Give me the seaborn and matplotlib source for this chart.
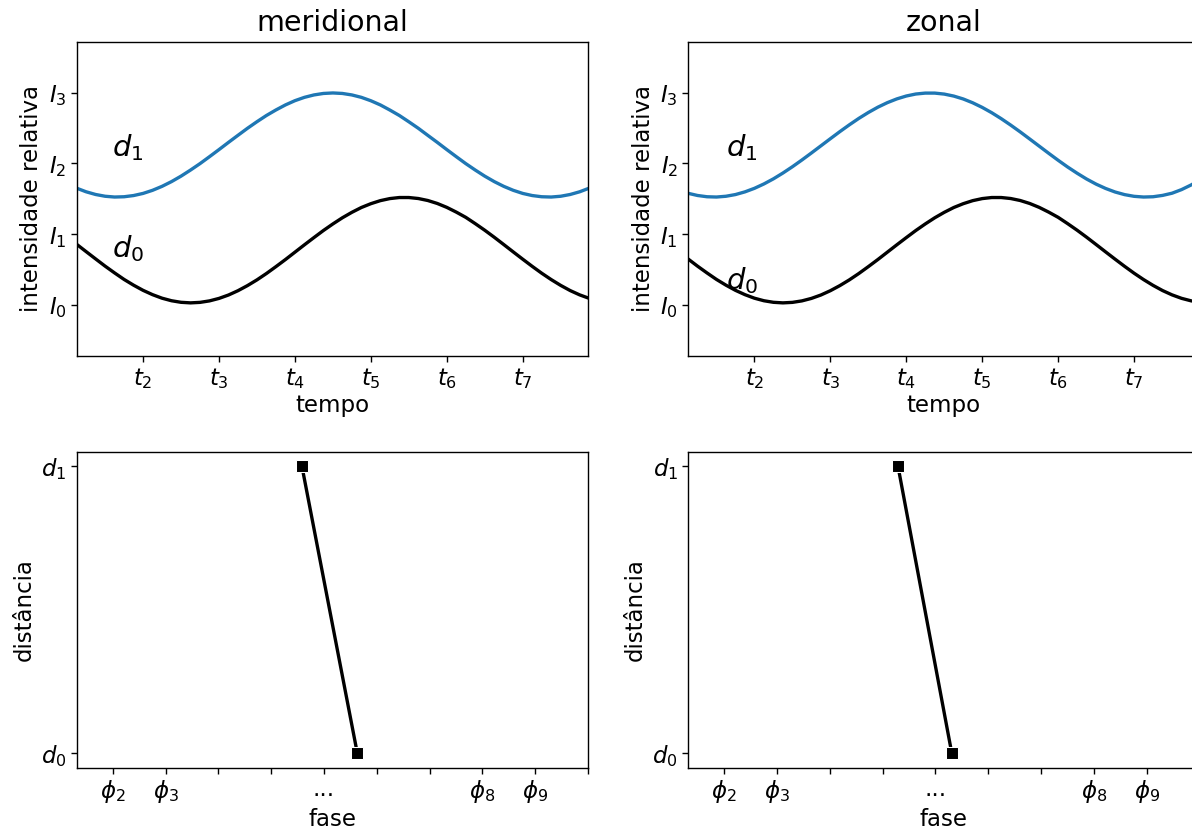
import numpy as np
import pandas as pd
import matplotlib
matplotlib.use("Agg")
import matplotlib.pyplot as plt
import seaborn as sns

# -----------------------------------------------------
# Values
# -----------------------------------------------------
tempo = [1.000, 1.125, 1.250, 1.375, 1.500, 1.625, 1.750, 1.875, 2.000, 2.125,
         2.250, 2.375, 2.500, 2.625, 2.750, 2.875, 3.000, 3.125, 3.250, 3.375,
         3.500, 3.625, 3.750, 3.875, 4.000, 4.125, 4.250, 4.375, 4.500, 4.625,
         4.750, 4.875, 5.000, 5.125, 5.250, 5.375, 5.500, 5.625, 5.750, 5.875,
         6.000, 6.125, 6.250, 6.375, 6.500, 6.625, 6.750, 6.875, 7.000, 7.125,
         7.250, 7.375, 7.500, 7.625, 7.750, 7.875, 8.000]

# meridional
mer_d1 = [1.712, 1.650, 1.599, 1.561, 1.536, 1.525, 1.529, 1.546, 1.576, 1.620,
          1.676, 1.743, 1.820, 1.906, 1.997, 2.095, 2.195, 2.297, 2.397, 2.496,
          2.589, 2.677, 2.755, 2.826, 2.886, 2.933, 2.967, 2.988, 2.995, 2.988,
          2.967, 2.933, 2.885, 2.826, 2.754, 2.677, 2.588, 2.496, 2.396, 2.297,
          2.195, 2.095, 1.997, 1.906, 1.820, 1.743, 1.676, 1.620, 1.576, 1.546,
          1.529, 1.525, 1.536, 1.561, 1.599, 1.650, 1.712]
mer_d0 = [0.961, 0.858, 0.754, 0.651, 0.549, 0.453, 0.361, 0.280, 0.207, 0.146,
          0.096, 0.060, 0.038, 0.030, 0.037, 0.058, 0.093, 0.141, 0.202, 0.274,
          0.355, 0.445, 0.542, 0.642, 0.746, 0.850, 0.952, 1.052, 1.145, 1.232,
          1.309, 1.377, 1.431, 1.474, 1.503, 1.518, 1.518, 1.504, 1.476, 1.434,
          1.379, 1.312, 1.238, 1.149, 1.056, 0.957, 0.854, 0.750, 0.647, 0.546,
          0.449, 0.359, 0.277, 0.204, 0.143, 0.094, 0.059]

# zonal
zon_d1 = [1.622, 1.578, 1.547, 1.529, 1.525, 1.536, 1.560, 1.598, 1.648, 1.710,
          1.782, 1.864, 1.953, 2.048, 2.147, 2.248, 2.349, 2.449, 2.545, 2.636,
          2.719, 2.794, 2.858, 2.911, 2.952, 2.980, 2.993, 2.993, 2.979, 2.951,
          2.910, 2.856, 2.791, 2.716, 2.632, 2.541, 2.445, 2.345, 2.244, 2.143,
          2.044, 1.949, 1.861, 1.779, 1.707, 1.646, 1.596, 1.559, 1.535, 1.525,
          1.529, 1.548, 1.579, 1.630, 1.695, 1.770, 1.850]
zon_d0 = [0.754, 0.651, 0.549, 0.453, 0.361, 0.280, 0.207, 0.146, 0.096, 0.060,
          0.038, 0.030, 0.037, 0.058, 0.093, 0.141, 0.202, 0.274, 0.355, 0.445,
          0.542, 0.642, 0.746, 0.850, 0.952, 1.052, 1.145, 1.232, 1.309, 1.377,
          1.431, 1.474, 1.503, 1.518, 1.518, 1.504, 1.476, 1.434, 1.379, 1.312,
          1.238, 1.149, 1.056, 0.957, 0.854, 0.750, 0.647, 0.546, 0.449, 0.359,
          0.277, 0.204, 0.143, 0.094, 0.059, 0.037, 0.030]

t_ticks = [2, 3, 4, 5, 6, 7]
t_labels = ['$t_2$', '$t_3$', '$t_4$', '$t_5$', '$t_6$', '$t_7$']
i_ticks = [0, 1, 2, 3]
i_labels = ['$I_0$', '$I_1$', '$I_2$', '$I_3$']

# phase (x) of each distance level, in tick units
distancia = [1, 0]
mer_fase = [3.58, 4.63]
zon_fase = [3.29, 4.31]

f_ticks = [0, 1, 2, 3, 4, 5, 6, 7, 8, 9]
f_labels = ['$\\phi_2$', '$\\phi_3$', '', '', '...', '', '', '$\\phi_8$', '$\\phi_9$', '']
d_ticks = [0, 1]
d_labels = ['$d_0$', '$d_1$']

# -----------------------------------------------------
# Figure
# -----------------------------------------------------
sns.set_theme(style="ticks", rc={
    'axes.edgecolor': 'black',
    'axes.linewidth': 1.0,
    'axes.labelcolor': 'black',
    'text.color': 'black',
    'xtick.color': 'black',
    'ytick.color': 'black',
    'xtick.major.size': 4,
    'ytick.major.size': 4,
    'xtick.major.width': 1.0,
    'ytick.major.width': 1.0,
})
plt.rcParams['font.family'] = ['DejaVu Sans']
plt.rcParams['mathtext.fontset'] = 'dejavusans'

fig = plt.figure(figsize=(11.92, 8.36), dpi=100)
ax_tl = fig.add_axes([0.0646, 0.5742, 0.4287, 0.376])
ax_tr = fig.add_axes([0.5775, 0.5742, 0.4287, 0.376])
ax_bl = fig.add_axes([0.0646, 0.0817, 0.4287, 0.378])
ax_br = fig.add_axes([0.5775, 0.0817, 0.4287, 0.378])

tops = [
    (ax_tl, 'meridional', mer_d1, mer_d0, (1.59, 2.23), (1.59, 0.80)),
    (ax_tr, 'zonal', zon_d1, zon_d0, (1.63, 2.23), (1.62, 0.35)),
]
for ax, title, d1, d0, pos1, pos0 in tops:
    df = pd.DataFrame({'tempo': tempo, 'd1': d1, 'd0': d0})
    sns.lineplot(data=df, x='tempo', y='d1', ax=ax, color='#1f77b4', linewidth=2.4)
    sns.lineplot(data=df, x='tempo', y='d0', ax=ax, color='black', linewidth=2.4)
    ax.set_xlim(1.13, 7.86)
    ax.set_ylim(-0.72, 3.72)
    ax.set_xticks(t_ticks)
    ax.set_xticklabels(t_labels)
    ax.set_yticks(i_ticks)
    ax.set_yticklabels(i_labels)
    ax.set_title(title, fontsize=20.5, pad=8)
    ax.set_xlabel('tempo', fontsize=16.5, labelpad=2)
    ax.set_ylabel('intensidade relativa', fontsize=16.5, labelpad=4)
    ax.tick_params(labelsize=16.5)
    ax.text(pos1[0], pos1[1], '$d_1$', fontsize=21, ha='left', va='center')
    ax.text(pos0[0], pos0[1], '$d_0$', fontsize=21, ha='left', va='center')

bottoms = [(ax_bl, mer_fase), (ax_br, zon_fase)]
for ax, fase in bottoms:
    df = pd.DataFrame({'fase': fase, 'distancia': distancia})
    sns.lineplot(data=df, x='fase', y='distancia', ax=ax, color='black',
                 linewidth=2.4, marker='s', markersize=8.5, estimator=None, sort=False)
    ax.set_xlim(-0.68, 9)
    ax.set_ylim(-0.05, 1.05)
    ax.set_xticks(f_ticks)
    ax.set_xticklabels(f_labels)
    ax.set_yticks(d_ticks)
    ax.set_yticklabels(d_labels)
    ax.set_xlabel('fase', fontsize=16.5, labelpad=2)
    ax.set_ylabel('distância', fontsize=16.5, labelpad=4)
    ax.tick_params(labelsize=16.5)

fig.savefig('out.png', dpi=100)
